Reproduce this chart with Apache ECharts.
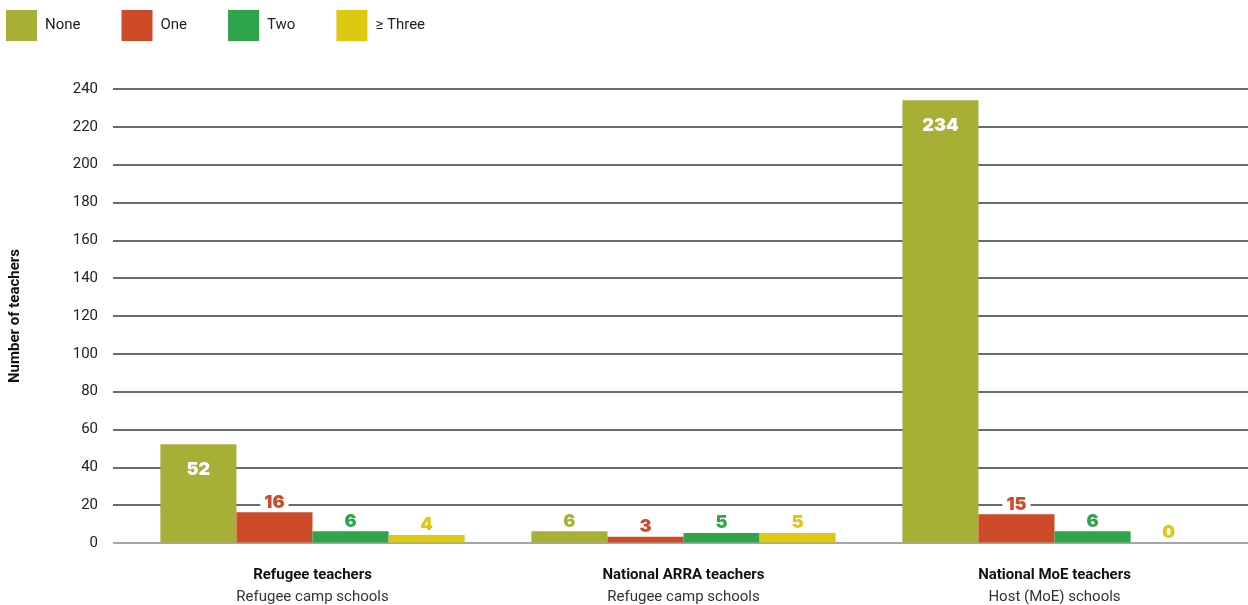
<!DOCTYPE html>
<html>
<head>
<meta charset="utf-8">
<script src="https://cdn.jsdelivr.net/npm/echarts@6/dist/echarts.min.js"></script>
<style>
  html, body { margin: 0; padding: 0; background: #fff; }
  #chart { width: 1248px; height: 605px; }
</style>
</head>
<body>
<div id="chart"></div>
<script>
// Teacher groups (bold title + school type)
const groupTitles = ['Refugee teachers', 'National ARRA teachers', 'National MoE teachers'];
const groupSchools = ['Refugee camp schools', 'Refugee camp schools', 'Host (MoE) schools'];

// Number of teachers per group, by count of trainings
const seriesNames = ['None', 'One', 'Two', '\u2265 Three'];
const noneValues = [52, 6, 234];
const oneValues = [16, 3, 15];
const twoValues = [6, 5, 6];
const threeValues = [4, 5, 0];

const yTicks = [0, 240, 20]; // min, max, interval

const colors = ['#A8AF37', '#CE4B28', '#2EA44B', '#DDC90F'];
const FONT = 'Roboto, "Liberation Sans", sans-serif';
const VALUE_FONT = 'Inter, "Open Sans", sans-serif';

const categories = groupTitles.map((t, i) => t + '\n' + groupSchools[i]);

function outsideLabel(color) {
  return {
    show: true,
    position: 'top',
    distance: 1,
    color: color,
    fontFamily: VALUE_FONT,
    fontWeight: 900,
    fontSize: 18,
    backgroundColor: '#fff',
    padding: [0, 4]
  };
}

// Large bars carry their value inside, in white
const noneData = noneValues.map(v => {
  if (v >= 40) {
    return {
      value: v,
      label: {
        show: true, position: 'insideTop', distance: 16, color: '#fff',
        backgroundColor: 'transparent',
        fontFamily: VALUE_FONT, fontWeight: 900, fontSize: 18
      }
    };
  }
  return { value: v };
});

const gridLineColors = [];
for (let v = yTicks[0]; v <= yTicks[1]; v += yTicks[2]) {
  gridLineColors.push(v === 0 ? '#8a8a8a' : '#3a3a3a');
}

function bar(name, data, color) {
  return {
    name: name,
    type: 'bar',
    xAxisIndex: 1,
    yAxisIndex: 1,
    data: data,
    itemStyle: { color: color },
    barGap: '0%',
    barCategoryGap: '18%',
    label: outsideLabel(color),
    emphasis: { disabled: true }
  };
}

const chart = echarts.init(document.getElementById('chart'), null, { renderer: 'canvas' });
chart.setOption({
  animation: false,
  backgroundColor: '#fff',
  color: colors,
  legend: {
    left: 1,
    top: 5,
    itemWidth: 31,
    itemHeight: 31,
    itemGap: 41,
    icon: 'rect',
    selectedMode: false,
    textStyle: { fontFamily: FONT, fontSize: 15, color: '#222', padding: [0, 0, 0, 3] },
    data: seriesNames
  },
  grid: [
    { left: 112, right: 0, top: 89, bottom: 62 },
    { left: 127, right: 8, top: 89, bottom: 62 }
  ],
  xAxis: [
    { gridIndex: 0, type: 'value', show: false, min: 0, max: 1 },
    {
      gridIndex: 1,
      type: 'category',
      data: categories,
      axisLine: { show: false },
      axisTick: { show: false },
      axisLabel: {
        margin: 22,
        interval: 0,
        formatter: (val) => {
          const parts = val.split('\n');
          return '{t|' + parts[0] + '}\n{s|' + parts[1] + '}';
        },
        rich: {
          t: { fontFamily: FONT, fontSize: 15, fontWeight: 'bold', color: '#111', lineHeight: 22 },
          s: { fontFamily: FONT, fontSize: 15, color: '#333', lineHeight: 22 }
        }
      }
    }
  ],
  yAxis: [
    {
      gridIndex: 0,
      type: 'value',
      min: yTicks[0],
      max: yTicks[1],
      interval: yTicks[2],
      name: 'Number of teachers',
      nameLocation: 'middle',
      nameGap: 90,
      nameTextStyle: { fontFamily: FONT, fontSize: 15, fontWeight: 'bold', color: '#111' },
      axisLine: { show: false },
      axisTick: { show: false },
      axisLabel: { fontFamily: FONT, fontSize: 15, color: '#222', margin: 15 },
      splitLine: { show: true, lineStyle: { color: gridLineColors, width: 1.5 } }
    },
    {
      gridIndex: 1,
      type: 'value',
      min: yTicks[0],
      max: yTicks[1],
      interval: yTicks[2],
      show: false,
      splitLine: { show: false }
    }
  ],
  series: [
    bar(seriesNames[0], noneData, colors[0]),
    bar(seriesNames[1], oneValues, colors[1]),
    bar(seriesNames[2], twoValues, colors[2]),
    bar(seriesNames[3], threeValues, colors[3])
  ]
});
</script>
</body>
</html>
